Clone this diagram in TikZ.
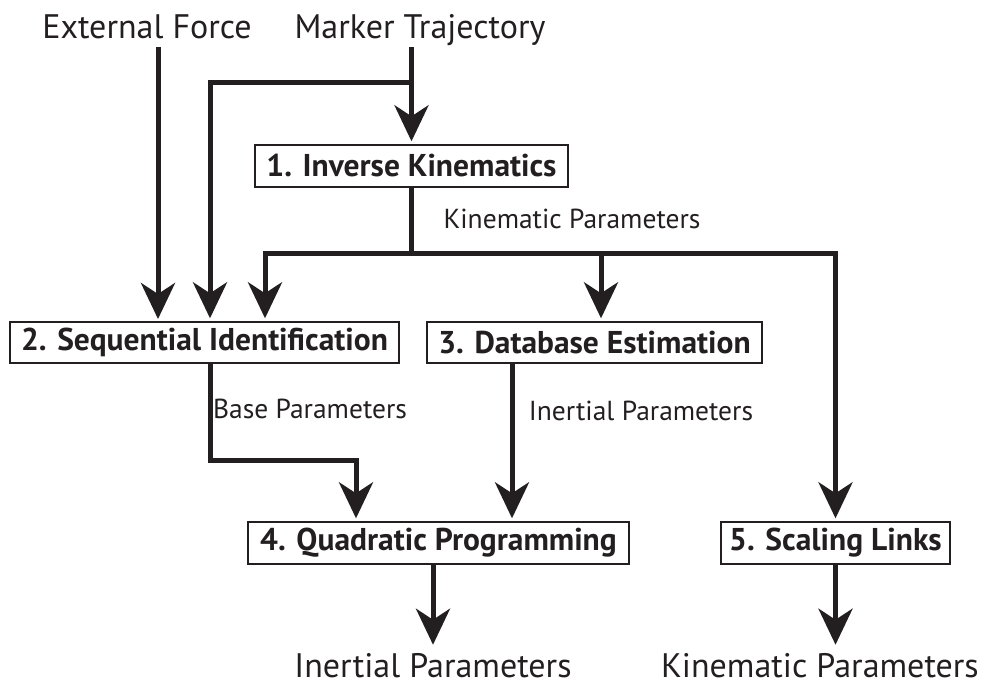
\documentclass[tikz,border=0pt]{standalone}
\usepackage{fontspec}
\setmainfont{PT Sans}
\usetikzlibrary{arrows.meta}
\definecolor{ink}{HTML}{231F20}
\tikzset{
  box/.style={draw=ink, line width=1.4pt, fill=white, inner sep=0pt,
    font=\bfseries\fontsize{31.5}{34}\selectfont, text=ink},
  bigtext/.style={inner sep=0pt, anchor=base, text=ink,
    font=\fontsize{34}{37}\selectfont},
  midtext/.style={inner sep=0pt, anchor=base, text=ink,
    font=\fontsize{27.5}{30}\selectfont},
  line/.style={draw=ink, line width=5pt, line join=miter},
  flow/.style={line, -{Stealth[length=36pt, width=34pt, inset=11pt]}, shorten >=3pt},
}
\begin{document}
\begin{tikzpicture}[x=1pt, y=-1pt]
\useasboundingbox (0,0) rectangle (995,686);

% inputs
\node[bigtext] (ext) at (147,38) {External Force};
\node[bigtext] (mkr) at (420,38) {Marker Trajectory};

% processing steps
\node[box, minimum width=313pt, minimum height=42pt] (b1) at (411.5,166) {1. Inverse Kinematics};
\node[box, minimum width=389pt, minimum height=41pt] (b2) at (204.5,342.5) {2. Sequential Identification};
\node[box, minimum width=335pt, minimum height=41pt] (b3) at (594.5,342.5) {3. Database Estimation};
\node[box, minimum width=381pt, minimum height=42pt] (b4) at (438.5,543) {4. Quadratic Programming};
\node[box, minimum width=229pt, minimum height=42pt] (b5) at (835.5,543) {5. Scaling Links};

% outputs
\node[bigtext] (out4) at (433,677) {Inertial Parameters};
\node[bigtext] (out5) at (820,677) {Kinematic Parameters};

% edge labels
\node[midtext] (lkin) at (572,228) {Kinematic Parameters};
\node[midtext] (lbase) at (310,418) {Base Parameters};
\node[midtext] (lin) at (641,420) {Inertial Parameters};

% junctions and column ends
\coordinate (m) at (411.5,82);
\coordinate (k) at (411.5,253);
\coordinate (bb) at (210,460);
\coordinate (e) at (158,322);
\coordinate (mtop) at (411.5,47);
\coordinate (etop) at (158,47);

% marker trajectory
\draw[flow] (mtop) -- (b1.north);
\draw[flow] (m) -| ([xshift=5.5pt]b2.north);
% external force
\draw[flow] (etop) -- (e);

% kinematic parameters
\draw[line] (b1.south) -- (k);
\draw[flow] (k) -| ([xshift=60.5pt]b2.north);
\draw[flow] (k) -| (b5.north);
\draw[flow] ([xshift=6.5pt]b3.north |- k) -- ([xshift=6.5pt]b3.north);

% base and inertial parameters
\draw[flow] ([xshift=5.5pt]b2.south) -- (bb) -| ([xshift=-82.5pt]b4.north);
\draw[flow] ([xshift=-82.5pt]b3.south) -- ([xshift=73.5pt]b4.north);

% outputs
\draw[flow, shorten >=0pt] ([xshift=-5.5pt]b4.south) -- ([yshift=8pt]out4.north);
\draw[flow, shorten >=0pt] (b5.south) -- ([yshift=8pt]out5.north -| b5.south);
\end{tikzpicture}
\end{document}
